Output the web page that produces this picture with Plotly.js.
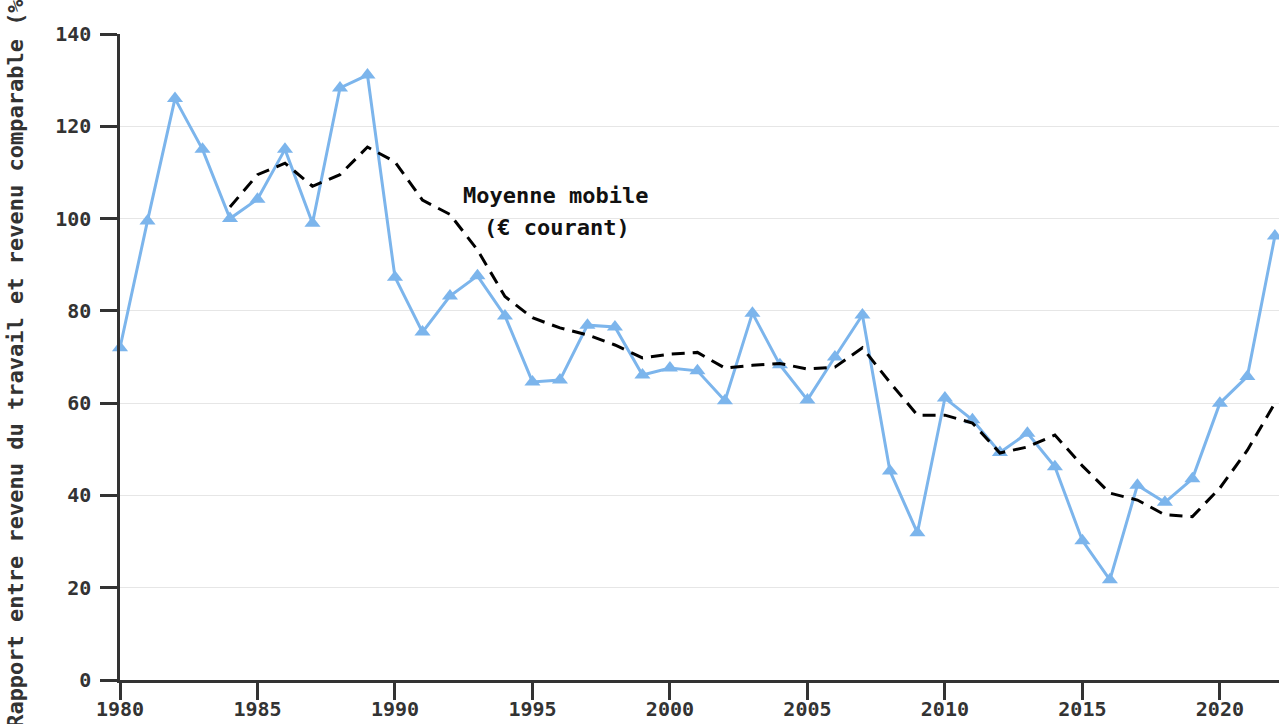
<!DOCTYPE html>
<html>
<head>
<meta charset="utf-8">
<script src="https://cdn.plot.ly/plotly-3.0.1.min.js"></script>
<style>html,body{margin:0;padding:0;background:#fff;}#chart{width:1279px;height:724px;}</style>
</head>
<body>
<div id="chart"></div>
<script>
const years = [1980,1981,1982,1983,1984,1985,1986,1987,1988,1989,1990,1991,1992,1993,1994,1995,1996,1997,1998,1999,2000,2001,2002,2003,2004,2005,2006,2007,2008,2009,2010,2011,2012,2013,2014,2015,2016,2017,2018,2019,2020,2021,2022];
const ratio = [72,99.5,126,115,100,104.2,115,99,128.3,131.1,87.3,75.4,83.2,87.6,78.9,64.6,65,76.9,76.5,66.1,67.6,67,60.5,79.5,68.3,60.7,70,79.1,45.3,31.9,61.1,56.4,49.3,53.5,46.2,30.2,21.7,42.2,38.5,43.6,60,65.8,96.2];
const maYears = [1984,1985,1986,1987,1988,1989,1990,1991,1992,1993,1994,1995,1996,1997,1998,1999,2000,2001,2002,2003,2004,2005,2006,2007,2008,2009,2010,2011,2012,2013,2014,2015,2016,2017,2018,2019,2020,2021,2022];
const movingAvg = [102.5,109.5,112,107,109.5,115.5,112.3,104,100.9,93.2,83.1,78.5,76.3,74.8,72.6,69.8,70.6,71,67.6,68.2,68.6,67.4,67.8,72,64.5,57.4,57.4,55.7,49.2,50.5,53.1,46.4,40.5,39,35.8,35.4,41.6,49.8,60];
const xTicks = [1980,1985,1990,1995,2000,2005,2010,2015,2020];
const yTitle = "Rapport entre revenu du travail et revenu comparable (%)";
const annLines = ["Moyenne mobile", "(€ courant)"];
const annX = [1995.85, 1995.9];
const annY = [105.1, 98.0];

const font = "DejaVu Sans Mono, monospace";
const traces = [
  {x: years, y: ratio, type: "scatter", mode: "lines+markers",
   line: {color: "#7cb5ec", width: 3},
   marker: {symbol: "triangle-up", size: 14, color: "#7cb5ec"},
   cliponaxis: false, hoverinfo: "x+y"},
  {x: maYears, y: movingAvg, type: "scatter", mode: "lines",
   line: {color: "#000000", width: 3, dash: "13px,8px"}, hoverinfo: "x+y"}
];
const layout = {
  width: 1279, height: 724,
  margin: {l: 120, r: 0, t: 34, b: 44},
  paper_bgcolor: "#fff", plot_bgcolor: "#fff",
  showlegend: false,
  font: {family: font, color: "#333", size: 20, weight: "bold"},
  xaxis: {range: [1980, 2022.15], tickvals: xTicks, ticks: "outside", ticklen: 17, tickwidth: 2.5, tickcolor: "#333",
          ticklabelstandoff: -8,
          showline: true, linecolor: "#333", linewidth: 2.5, showgrid: false, zeroline: false,
          tickfont: {family: font, size: 20, color: "#333", weight: "bold"}},
  yaxis: {range: [0, 140], dtick: 20, ticks: "outside", ticklen: 17, tickwidth: 2.5, tickcolor: "#333",
          ticklabelstandoff: 5,
          showline: true, linecolor: "#333", linewidth: 2.5, showgrid: true, gridcolor: "#e6e6e6", gridwidth: 1, zeroline: false,
          tickfont: {family: font, size: 20, color: "#333", weight: "bold"},
          title: {text: yTitle, standoff: 26, font: {family: font, size: 22, color: "#333", weight: "bold"}}},
  annotations: annLines.map((t, i) => ({x: annX[i], y: annY[i], xref: "x", yref: "y", text: t, showarrow: false,
                 font: {family: font, size: 22, color: "#111", weight: "bold"}, align: "center"}))
};
Plotly.newPlot("chart", traces, layout, {displayModeBar: false});
</script>
</body>
</html>
